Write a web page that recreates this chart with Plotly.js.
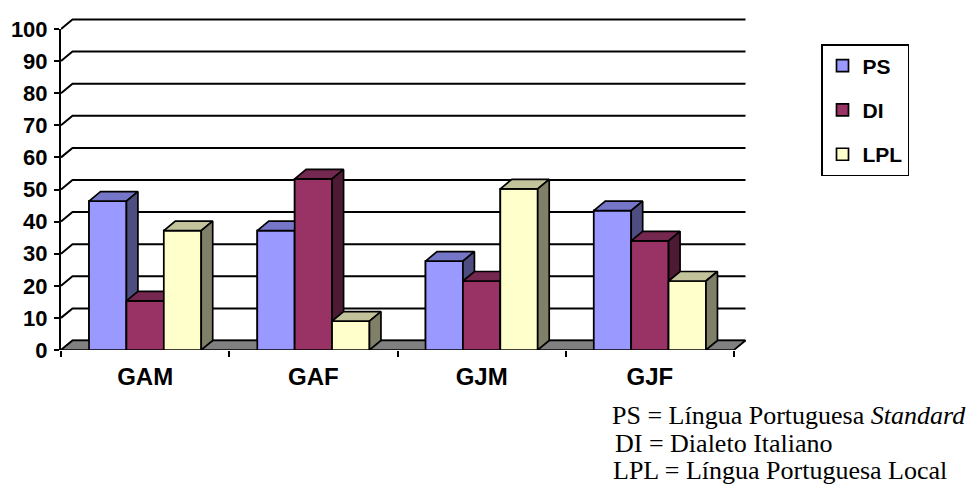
<!DOCTYPE html>
<html><head><meta charset="utf-8">
<script src="https://cdn.plot.ly/plotly-3.0.1.min.js"></script>
<style>html,body{margin:0;padding:0;background:#fff}</style>
</head><body><div id="chart" style="width:978px;height:491px"></div>
<script>
// ---- data ----
const categories = ['GAM', 'GAF', 'GJM', 'GJF'];
const seriesNames = ['PS', 'DI', 'LPL'];
const psValues  = [46.4, 37.2, 27.7, 43.4];
const diValues  = [15.3, 53.3, 21.5, 34.0];
const lplValues = [37.2, 9.0, 50.2, 21.5];
const yTickValues = [0, 10, 20, 30, 40, 50, 60, 70, 80, 90, 100];
const footnoteLines = [
  'PS = Língua Portuguesa <i>Standard</i>',
  'DI = Dialeto Italiano',
  'LPL = Língua Portuguesa Local'
];

// ---- styles / geometry ----
const seriesValues = [psValues, diValues, lplValues];
const frontColors = ['#9999FF', '#993366', '#FFFFCC'];
const topColors   = ['#7676C8', '#74274F', '#C2C29B'];
const sideColors  = ['#4D4D80', '#4C1A33', '#808068'];
const floorColor = '#808080';

const W = 978, H = 491;
const M = {l: 61, r: 227, t: 16, b: 141};
const plotW = W - M.l - M.r, plotH = H - M.t - M.b;
const pxPerCat = 168.25, pxPerUnit = 3.21;
const xMin = -0.5, xMax = xMin + plotW / pxPerCat;
const yMax2 = plotH / pxPerUnit;
const DX = 11.5 / pxPerCat, DY = 9.5 / pxPerUnit;
const nS = seriesNames.length;
const barW = (1 - 1/3) / nS;
const idx = categories.map((c, i) => i);
const edge = {color: '#000', width: 1.7};
const boldSans = 'Liberation Sans, Arial, sans-serif';

const traces = [];

// real bars (front faces, legend)
seriesNames.forEach((name, k) => {
  traces.push({
    type: 'bar', name: name, x: idx, y: seriesValues[k],
    width: barW, offset: (k - nS/2) * barW,
    xaxis: 'x', yaxis: 'y2', legendgroup: name,
    marker: {color: frontColors[k], line: edge},
    hoverinfo: 'skip'
  });
});

// back wall gridlines with connectors from front axis ticks
const gx = [], gy = [];
yTickValues.forEach(v => {
  gx.push(xMin, xMin + DX, categories.length - 0.5 + DX, null);
  gy.push(v, v + DY, v + DY, null);
});
traces.push({type: 'scatter', mode: 'lines', x: gx, y: gy, xaxis: 'x', yaxis: 'y2',
  line: {color: '#000', width: 2}, showlegend: false, hoverinfo: 'skip'});

// floor
const xEnd = categories.length - 0.5;
traces.push({type: 'scatter', mode: 'lines', fill: 'toself', fillcolor: floorColor,
  x: [xMin, xEnd, xEnd + DX, xMin + DX, xMin], y: [0, 0, DY, DY, 0],
  xaxis: 'x', yaxis: 'y2', line: edge, showlegend: false, hoverinfo: 'skip'});

// 3D faces of every bar, drawn left to right
function face(xs, ys, color) {
  traces.push({type: 'scatter', mode: 'lines', fill: 'toself', fillcolor: color,
    x: xs, y: ys, xaxis: 'x', yaxis: 'y2', line: edge, showlegend: false, hoverinfo: 'skip'});
}
idx.forEach(i => {
  seriesNames.forEach((name, k) => {
    const v = seriesValues[k][i];
    const L = i + (k - nS/2) * barW, R = L + barW;
    face([L, R, R, L, L], [0, 0, v, v, 0], frontColors[k]);
    face([L, R, R + DX, L + DX, L], [v, v, v + DY, v + DY, v], topColors[k]);
    face([R, R + DX, R + DX, R, R], [0, DY, v + DY, v, 0], sideColors[k]);
  });
});

// dummy traces so that display axes render
traces.push({type: 'scatter', x: [], y: [], xaxis: 'x', yaxis: 'y', showlegend: false, hoverinfo: 'skip'});
traces.push({type: 'scatter', x: [], y: [], xaxis: 'x2', yaxis: 'y', showlegend: false, hoverinfo: 'skip'});

const footY = [415, 443, 470];
const footX = [610, 613, 611];
const annotations = footnoteLines.map((t, j) => ({
  text: t, xref: 'paper', yref: 'paper',
  x: (footX[j] - M.l) / plotW, y: (H - M.b - footY[j]) / plotH,
  xanchor: 'left', yanchor: 'middle', showarrow: false,
  font: {family: 'Liberation Serif, Times New Roman, serif', size: 26, color: '#000'}
}));

const layout = {
  width: W, height: H, margin: M,
  paper_bgcolor: '#fff', plot_bgcolor: 'rgba(0,0,0,0)',
  barmode: 'overlay', showlegend: true,
  xaxis: {range: [xMin, xMax], anchor: 'y', tickvals: idx, ticktext: categories,
    ticks: '', showgrid: false, zeroline: false, showline: false,
    tickfont: {family: boldSans, size: 24, color: '#000', weight: 'bold'},
    ticklabelstandoff: 10, fixedrange: true},
  xaxis2: {overlaying: 'x', matches: 'x', anchor: 'y', side: 'bottom',
    tickvals: [-0.5, 0.5, 1.5, 2.5, 3.5], showticklabels: false,
    ticks: 'outside', ticklen: 6, tickwidth: 2, tickcolor: '#000',
    showgrid: false, zeroline: false, showline: false},
  yaxis: {range: [0, 100], domain: [0, 100 / yMax2], anchor: 'x',
    tickvals: yTickValues, ticks: 'outside', ticklen: 5, tickwidth: 2, tickcolor: '#000',
    showline: true, linewidth: 2, linecolor: '#000', showgrid: false, zeroline: false,
    tickfont: {family: boldSans, size: 22, color: '#000', weight: 'bold'},
    ticklabelstandoff: 2, fixedrange: true},
  yaxis2: {range: [0, yMax2], domain: [0, 1], anchor: 'x', visible: false, fixedrange: true},
  legend: {x: (821 - M.l) / plotW, y: (H - M.b - 44) / plotH, xanchor: 'left', yanchor: 'top',
    bgcolor: '#fff', bordercolor: '#000', borderwidth: 1.5, tracegroupgap: 14,
    font: {family: boldSans, size: 21, color: '#000', weight: 'bold'}},
  annotations: annotations
};

Plotly.newPlot('chart', traces, layout, {displayModeBar: false, staticPlot: true});
</script>
</body></html>
